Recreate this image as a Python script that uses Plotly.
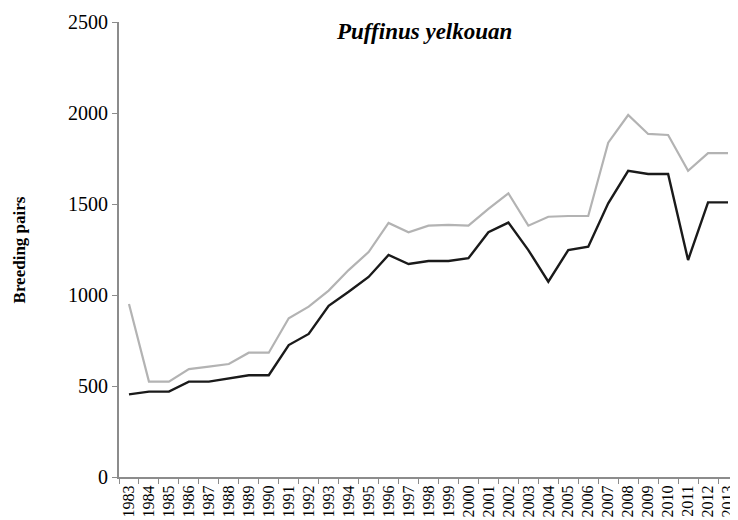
import plotly.graph_objects as go

years = [str(y) for y in range(1983, 2014)]
upper = [950, 524, 524, 593, 606, 621, 683, 683, 872, 936, 1024, 1137, 1236, 1396,
         1345, 1381, 1385, 1381, 1473, 1559, 1381, 1430, 1434, 1434, 1837, 1989,
         1885, 1879, 1682, 1779, 1779]
lower = [454, 469, 469, 524, 524, 542, 559, 559, 725, 786, 941, 1018, 1099, 1220,
         1170, 1187, 1187, 1202, 1345, 1398, 1247, 1073, 1247, 1265, 1504, 1682,
         1665, 1665, 1192, 1509, 1509]
y_ticks = [0, 500, 1000, 1500, 2000, 2500]

fig = go.Figure()
fig.add_trace(go.Scatter(x=years, y=upper, mode="lines",
                         line=dict(color="#b3b3b3", width=2.2), showlegend=False))
fig.add_trace(go.Scatter(x=years, y=lower, mode="lines",
                         line=dict(color="#1a1a1a", width=2.4), showlegend=False))

font_family = "Liberation Serif, Times New Roman, serif"
# page body has a default 8px margin, so the figure is sized to fit the window
fig.update_layout(
    width=730, height=512,
    margin=dict(l=111, r=0, t=14, b=43),
    plot_bgcolor="white", paper_bgcolor="white",
    font=dict(family=font_family, color="black", size=16),
    xaxis=dict(type="category", range=[-0.5, 30.5], showgrid=False, automargin=False,
               showline=True, linecolor="#8c8c8c", linewidth=2,
               ticks="outside", tickson="boundaries", ticklen=5, tickcolor="#8c8c8c",
               tickangle=-90, tickfont=dict(size=16, family=font_family)),
    yaxis=dict(range=[0, 2500], tickvals=y_ticks, showgrid=False, zeroline=False,
               automargin=False,
               showline=True, linecolor="#8c8c8c", linewidth=2,
               ticks="outside", ticklen=5, tickcolor="#8c8c8c",
               tickfont=dict(size=20, family=font_family)),
    annotations=[
        dict(text="<b><i>Puffinus yelkouan</i></b>", xref="paper", yref="paper",
             x=0.493, y=0.98, xanchor="center", yanchor="middle",
             showarrow=False, font=dict(size=23, family=font_family)),
        dict(text="<b>Breeding pairs</b>", xref="paper", yref="paper",
             x=-0.16, y=0.5, xanchor="center", yanchor="middle", textangle=-90,
             showarrow=False, font=dict(size=17, family=font_family)),
    ],
)

fig.write_html("out.html")
